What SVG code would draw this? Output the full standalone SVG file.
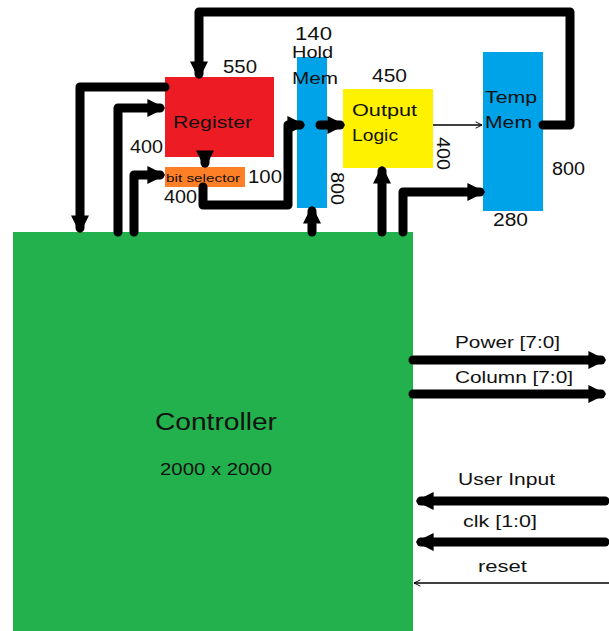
<svg xmlns="http://www.w3.org/2000/svg" width="609" height="631" viewBox="0 0 609 631">
<defs>
<marker id="ah" viewBox="0 0 10 10" refX="7" refY="5" markerWidth="2" markerHeight="2" orient="auto" markerUnits="strokeWidth">
<path d="M0,0 L10,5 L0,10 z" fill="#000"/>
</marker>
<marker id="thin" viewBox="0 0 10 10" refX="9" refY="5" markerWidth="8" markerHeight="8" orient="auto" markerUnits="userSpaceOnUse">
<path d="M1,1 L9,5 L1,9" fill="none" stroke="#000" stroke-width="1.2"/>
</marker>
</defs>
<style>
text{font-family:"Liberation Sans","Open Sans",sans-serif;fill:#111;}
.lbl{font-size:17px;}
.num{font-size:18px;}
.sm{font-size:16px;}
.w{fill:none;stroke:#000;stroke-width:9;stroke-linejoin:round;stroke-linecap:round;}
.t{fill:none;stroke:#000;stroke-width:1.3;}
</style>
<rect width="609" height="631" fill="#fff"/>
<g id="controller">
<rect x="13" y="232" width="400" height="399" fill="#22B14C"/>
<text x="155" y="430" font-size="23" textLength="122" lengthAdjust="spacingAndGlyphs">Controller</text>
<text x="160" y="475" font-size="16" textLength="112" lengthAdjust="spacingAndGlyphs">2000 x 2000</text>
</g>
<g id="register">
<rect x="165" y="77" width="109" height="80" fill="#ED1C24"/>
<text x="173" y="128" class="lbl" textLength="79" lengthAdjust="spacingAndGlyphs">Register</text>
<text x="223" y="73" class="num" textLength="34" lengthAdjust="spacingAndGlyphs">550</text>
<text x="130" y="153" class="num" textLength="33" lengthAdjust="spacingAndGlyphs">400</text>
</g>
<g id="bitselector">
<rect x="165" y="167" width="80" height="20" fill="#FF7F27"/>
<text x="166" y="182" font-size="11" textLength="74" lengthAdjust="spacingAndGlyphs">bit selector</text>
<text x="248" y="183" class="num" textLength="34" lengthAdjust="spacingAndGlyphs">100</text>
<text x="164" y="203" class="num" textLength="33" lengthAdjust="spacingAndGlyphs">400</text>
</g>
<g id="holdmem">
<rect x="297" y="57" width="30" height="151" fill="#00A2E8"/>
<text x="295" y="40" class="num" textLength="37" lengthAdjust="spacingAndGlyphs">140</text>
<text x="292" y="58" class="lbl" textLength="41" lengthAdjust="spacingAndGlyphs">Hold</text>
<text x="292" y="84" class="lbl" textLength="46" lengthAdjust="spacingAndGlyphs">Mem</text>
<text x="0" y="0" class="num" transform="translate(331,172) rotate(90)" textLength="33" lengthAdjust="spacingAndGlyphs">800</text>
</g>
<g id="outputlogic">
<rect x="343" y="89" width="90" height="79" fill="#FFF200"/>
<text x="352" y="116" class="lbl" textLength="65" lengthAdjust="spacingAndGlyphs">Output</text>
<text x="352" y="141" class="lbl" textLength="46" lengthAdjust="spacingAndGlyphs">Logic</text>
<text x="372" y="82" class="num" textLength="35" lengthAdjust="spacingAndGlyphs">450</text>
<text x="0" y="0" class="num" transform="translate(437,137) rotate(90)" textLength="33" lengthAdjust="spacingAndGlyphs">400</text>
</g>
<g id="tempmem">
<rect x="483" y="52" width="60" height="159" fill="#00A2E8"/>
<text x="485" y="103" class="lbl" textLength="52" lengthAdjust="spacingAndGlyphs">Temp</text>
<text x="485" y="128" class="lbl" textLength="47" lengthAdjust="spacingAndGlyphs">Mem</text>
<text x="552" y="175" class="num" textLength="33" lengthAdjust="spacingAndGlyphs">800</text>
<text x="493" y="226" class="num" textLength="35" lengthAdjust="spacingAndGlyphs">280</text>
</g>
<g id="connectors">
<path class="w" d="M543,125 H570 V12 H199 V74" marker-end="url(#ah)"/>
<path class="w" d="M165,87 H80 V228" marker-end="url(#ah)"/>
<path class="w" d="M118,232 V108 H160" marker-end="url(#ah)"/>
<path class="w" d="M134,232 V175 H160" marker-end="url(#ah)"/>
<path class="w" d="M205,157 V163" marker-end="url(#ah)"/>
<path class="w" d="M203,187 V205 H288 V125 H300" marker-end="url(#ah)"/>
<path class="w" d="M320,125 H340" marker-end="url(#ah)"/>
<path class="w" d="M312,232 V211" marker-end="url(#ah)"/>
<path class="w" d="M382,232 V171" marker-end="url(#ah)"/>
<path class="w" d="M403,232 V192 H480" marker-end="url(#ah)"/>
<path class="t" d="M433,125 H482" marker-end="url(#thin)"/>
<path class="w" d="M413,360 H601" marker-end="url(#ah)"/>
<path class="w" d="M413,394 H601" marker-end="url(#ah)"/>
<path class="w" d="M605,501 H421" marker-end="url(#ah)"/>
<path class="w" d="M605,542 H421" marker-end="url(#ah)"/>
<path class="t" d="M609,583 H414" marker-end="url(#thin)"/>
</g>
<g id="labels">
<text x="455" y="348" class="sm" textLength="105" lengthAdjust="spacingAndGlyphs">Power [7:0]</text>
<text x="455" y="383" class="sm" textLength="118" lengthAdjust="spacingAndGlyphs">Column [7:0]</text>
<text x="458" y="485" class="sm" textLength="97" lengthAdjust="spacingAndGlyphs">User Input</text>
<text x="463" y="527" class="sm" textLength="74" lengthAdjust="spacingAndGlyphs">clk [1:0]</text>
<text x="478" y="572" class="sm" textLength="49" lengthAdjust="spacingAndGlyphs">reset</text>
</g>
</svg>
